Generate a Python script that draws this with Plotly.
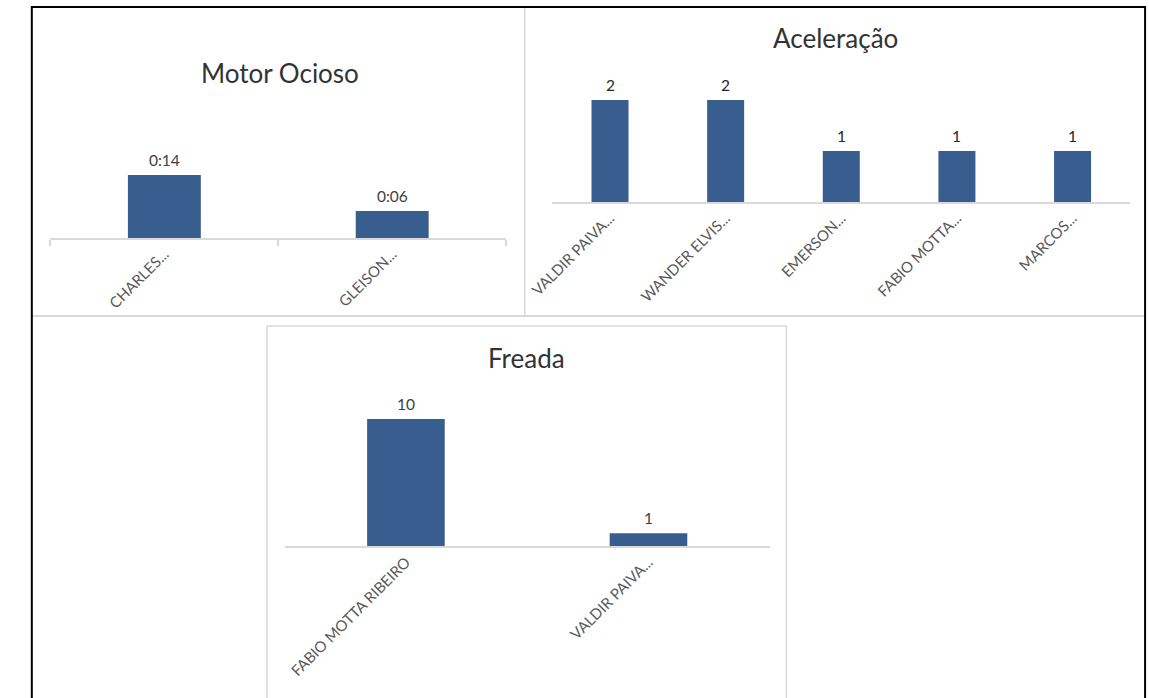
import plotly.graph_objects as go

W, H = 1149, 698

# ---- data -------------------------------------------------------------
motor_names = ["CHARLES...", "GLEISON..."]
motor_labels = ["0:14", "0:06"]          # idle time, h:mm

acel_names = ["VALDIR PAIVA...", "WANDER ELVIS...", "EMERSON...",
              "FABIO MOTTA...", "MARCOS..."]
acel_values = [2, 2, 1, 1, 1]

freada_names = ["FABIO MOTTA RIBEIRO", "VALDIR PAIVA..."]
freada_values = [10, 1]

# ---- styling ----------------------------------------------------------
BAR = "#375E8F"
GRID = "#d9d9d9"
TXT = "#404040"
TICK = "#595959"
FONT = "Lato"


def hmm_to_minutes(s):
    h, m = s.split(":")
    return int(h) * 60 + int(m)


motor_values = [hmm_to_minutes(s) for s in motor_labels]


def px(x):
    return x / W


def py(y):
    return 1 - y / H


fig = go.Figure()

panels = [
    # names, values, labels, axis suffix, x-range px, baseline px, px per unit, y max
    (motor_names, motor_values, motor_labels, "", (28, 493), 238, 4.5, 20),
    (acel_names, acel_values, [str(v) for v in acel_values], "2", (540, 1130), 202, 51, 2.5),
    (freada_names, freada_values, [str(v) for v in freada_values], "3", (267, 762), 546, 12.7, 12),
]

layout_axes = {}
annotations = []
for i, (names, vals, labels, sfx, (xa, xb), base, ppu, ymax) in enumerate(panels):
    xref = "x" + sfx
    yref = "y" + sfx
    fig.add_trace(go.Bar(
        x=names, y=vals, xaxis=xref, yaxis=yref,
        marker=dict(color=BAR, line=dict(width=0)),
        width=0.32, hoverinfo="skip",
    ))
    top = base - ymax * ppu
    layout_axes["xaxis" + sfx] = dict(
        domain=[px(xa), px(xb)], anchor=yref, type="category",
        showline=True, linecolor=GRID, linewidth=1.5,
        showgrid=False, zeroline=False,
        ticks="outside" if i == 0 else "", tickson="boundaries",
        ticklen=6, tickcolor=GRID, tickwidth=1.5,
        tickangle=-45, tickfont=dict(family=FONT, size=15, color=TICK),
        fixedrange=True,
    )
    layout_axes["yaxis" + sfx] = dict(
        domain=[py(base), py(top)], anchor=xref, range=[0, ymax],
        visible=False, fixedrange=True,
    )
    for n, v, lab in zip(names, vals, labels):
        annotations.append(dict(
            x=n, y=v, xref=xref, yref=yref, text=lab, showarrow=False,
            yanchor="bottom", yshift=4,
            font=dict(family=FONT, size=15.5,
                      color="#262626" if sfx == "2" else TXT),
        ))

# chart titles
for text, cx, cy in [("Motor Ocioso", 262, 73), ("Aceleração", 829, 38), ("Freada", 514, 358)]:
    annotations.append(dict(
        x=px(cx), y=py(cy), xref="paper", yref="paper", text=text,
        showarrow=False, xanchor="center", yanchor="middle",
        font=dict(family=FONT, size=26, color="#333333"),
    ))

shapes = [
    # panel separators
    dict(type="line", xref="paper", yref="paper", x0=px(512), x1=px(512),
         y0=py(7), y1=py(316), line=dict(color=GRID, width=1.5)),
    dict(type="line", xref="paper", yref="paper", x0=px(9), x1=px(1145),
         y0=py(316), y1=py(316), line=dict(color=GRID, width=2)),
    dict(type="rect", xref="paper", yref="paper", x0=px(249), x1=px(779),
         y0=py(705), y1=py(326), line=dict(color=GRID, width=1.5)),
    # outer frame
    dict(type="rect", xref="paper", yref="paper", x0=px(9), x1=px(1145),
         y0=py(710), y1=py(7), line=dict(color="black", width=2)),
]

fig.update_layout(
    width=W, height=H, margin=dict(l=0, r=0, t=0, b=0),
    paper_bgcolor="white", plot_bgcolor="white",
    showlegend=False, annotations=annotations, shapes=shapes,
    font=dict(family=FONT),
    **layout_axes,
)

fig.write_html("out.html")
